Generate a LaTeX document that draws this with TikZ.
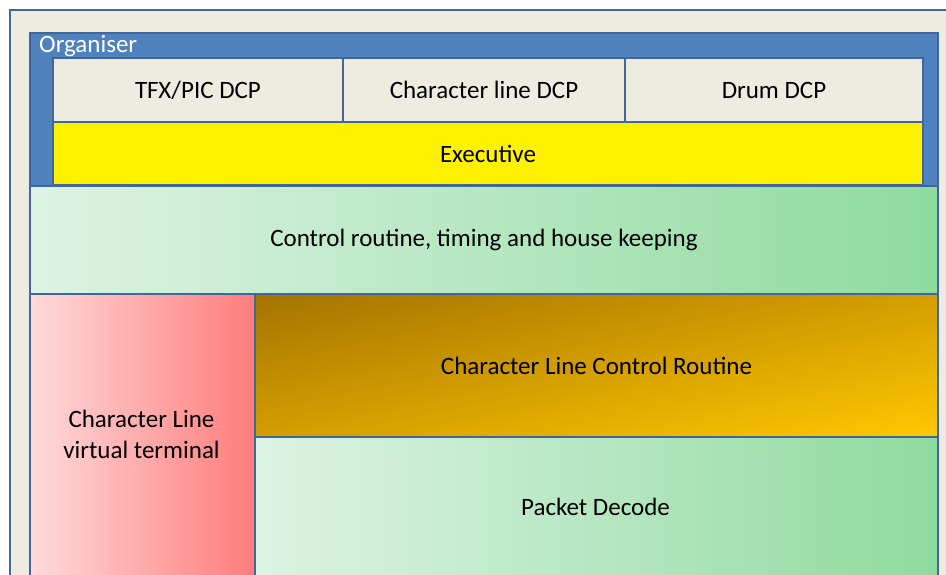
\documentclass[tikz,border=0pt]{standalone}
\usepackage{fontspec}
\setmainfont{Carlito}
\usetikzlibrary{shadings}
\definecolor{bordc}{HTML}{41679A}
\definecolor{orgblue}{HTML}{4F81BD}
\definecolor{beige}{HTML}{EEECE1}
\definecolor{gleft}{HTML}{DDF3E4}
\definecolor{gright}{HTML}{8FDB9E}
\definecolor{pleft}{HTML}{FFDADA}
\definecolor{pright}{HTML}{FF7C7C}
\definecolor{bdark}{HTML}{A47400}
\definecolor{bmid}{HTML}{D49E00}
\definecolor{blight}{HTML}{FFC800}
\tikzset{
  txt/.style={font=\fontsize{25}{31}\selectfont},
  box/.style={draw=bordc, line width=2pt, anchor=north west, inner sep=0pt, align=center, txt},
  greenbox/.style={box, left color=gleft, right color=gright},
}
\begin{document}
\begin{tikzpicture}[x=1pt,y=-1pt]
\useasboundingbox (0,0) rectangle (946,575);
\begin{scope}
\clip (0,0) rectangle (946,575);
\node[box, fill=beige, minimum width=960pt, minimum height=580pt] (outer) at (9,9) {};
\node[box, fill=orgblue, minimum width=908pt, minimum height=154pt] (org) at (29,32) {};
\node[anchor=base west, inner sep=0pt, text=white, txt] (orglbl) at (39,53) {Organiser};
\node[box, fill=beige, minimum width=290pt, minimum height=64pt] (tfx) at (52,57) {TFX/PIC DCP};
\node[box, fill=beige, minimum width=282pt, minimum height=64pt] (cld) at (342,57) {Character line DCP};
\node[box, fill=beige, minimum width=298pt, minimum height=64pt] (drum) at (624,57) {Drum DCP};
\node[box, fill=yellow, minimum width=870pt, minimum height=63pt] (exec) at (52,121) {Executive};
\node[greenbox, minimum width=908pt, minimum height=108pt] (ctrl) at (29,185) {Control routine, timing and house keeping};
\node[box, left color=pleft, right color=pright, minimum width=225pt, minimum height=300pt] (vt) at (29,293) {};
\node[align=center, txt] (vtlbl) at (141.5,434) {Character Line\\virtual terminal};
\node[box, upper left=bdark, upper right=bmid, lower left=bmid, lower right=blight, minimum width=683pt, minimum height=143pt] (clcr) at (254,293) {Character Line Control Routine};
\node[greenbox, minimum width=683pt, minimum height=160pt] (pd) at (254,436) {};
\node[txt] (pdlbl) at (595.5,507) {Packet Decode};
\end{scope}
\end{tikzpicture}
\end{document}
